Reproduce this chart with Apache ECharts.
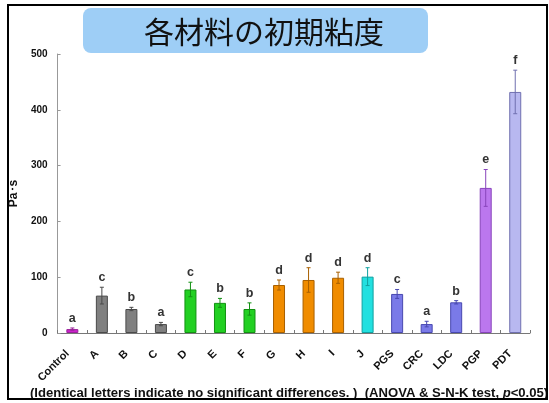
<!DOCTYPE html>
<html><head><meta charset="utf-8">
<script src="https://cdn.jsdelivr.net/npm/echarts@6/dist/echarts.min.js"></script>
<style>html,body{margin:0;padding:0;background:#fff}#c{width:549px;height:403px}</style>
</head><body><div id="c"></div>
<script>
const categories = ['Control','A','B','C','D','E','F','G','H','I','J','PGS','CRC','LDC','PGP','PDT'];
const means = [7, 67, 43, 16, 78, 54, 43, 86, 95, 99, 101, 70, 16, 55, 260, 432];
const errors = [2, 15, 3, 3, 13, 8, 11, 9, 22, 10, 16, 8, 5, 3, 33, 39];
const letters = ['a','c','b','a','c','b','b','d','d','d','d','c','a','b','e','f'];
const fills = ['#cc22cc','#808080','#808080','#808080','#22d022','#22d022','#22d022','#f08c00','#f08c00','#f08c00','#22e0e0','#7a7ae8','#7a7ae8','#7a7ae8','#bb77ee','#b8b8f0'];
const borders = ['#992299','#4a4a4a','#4a4a4a','#4a4a4a','#129012','#129012','#129012','#a86000','#a86000','#a86000','#10a0a0','#4848b0','#4848b0','#4848b0','#8844bb','#7070b0'];
const yTicks = [0, 100, 200, 300, 400, 500];
const titleText = '各材料の初期粘度';
const footText = '(Identical letters indicate no significant differences. )  (ANOVA & S-N-K test, ';

const chart = echarts.init(document.getElementById('c'));
const F = 'Liberation Sans, Arial, sans-serif';
chart.setOption({
  animation: false,
  backgroundColor: '#fff',
  grid: {left: 55, right: 19, top: 54, bottom: 70},
  xAxis: {
    type: 'category', data: categories,
    axisLine: {lineStyle: {color: '#777', width: 1}},
    axisTick: {show: true, inside: true, length: 3, lineStyle: {color: '#777'}},
    axisLabel: {rotate: 45, margin: 14, color: '#111', fontFamily: F, fontWeight: 'bold', fontSize: 11, interval: 0,
      formatter: v => '{t|' + v + '}', rich: {t: {fontFamily: F, fontWeight: 'bold', fontSize: 11, color: '#111', padding: [0, 7, 0, 0]}}}
  },
  yAxis: {
    type: 'value', min: yTicks[0], max: yTicks[yTicks.length-1], interval: 100,
    name: 'Pa･s', nameLocation: 'middle', nameGap: 34, nameRotate: 90,
    nameTextStyle: {fontFamily: F, fontWeight: 'bold', fontSize: 12, color: '#111'},
    axisLine: {show: true, lineStyle: {color: '#999'}},
    axisTick: {show: true, inside: true, length: 3, lineStyle: {color: '#999'}},
    splitLine: {show: false},
    axisLabel: {color: '#111', fontFamily: F, fontWeight: 'bold', fontSize: 10, margin: 10}
  },
  series: [
    {
      type: 'bar', barWidth: 12,
      data: means.map((v, i) => ({value: v, itemStyle: {color: fills[i], borderColor: borders[i], borderWidth: 1}}))
    },
    {
      type: 'custom',
      data: means.map((v, i) => [i, v, errors[i], letters[i]]),
      renderItem: function (params, api) {
        const x = api.coord([api.value(0), 0])[0];
        const top = api.coord([api.value(0), api.value(1) + api.value(2)])[1];
        const bot = api.coord([api.value(0), api.value(1) - api.value(2)])[1];
        const i = params.dataIndex;
        const st = {stroke: borders[i], lineWidth: 1};
        return {type: 'group', children: [
          {type: 'line', shape: {x1: x, y1: bot, x2: x, y2: top}, style: st},
          {type: 'line', shape: {x1: x - 2, y1: top, x2: x + 2, y2: top}, style: st},
          {type: 'line', shape: {x1: x - 2, y1: bot, x2: x + 2, y2: bot}, style: st},
          {type: 'text', x: x, y: top - 3, style: {text: letters[i], textAlign: 'center', textVerticalAlign: 'bottom', font: 'bold 12.5px ' + F, fill: '#333'}}
        ]};
      },
      z: 5
    }
  ],
  graphic: [
    {type: 'rect', shape: {x: 8, y: 5, width: 539, height: 394}, style: {fill: 'none', stroke: '#000', lineWidth: 2}, z: 10},
    {type: 'rect', shape: {x: 83, y: 8, width: 345, height: 45, r: 8}, style: {fill: '#9ecef6'}, z: 1},
    {type: 'text', x: 264, y: 32, style: {text: titleText, textAlign: 'center', textVerticalAlign: 'middle', font: '30px "Noto Sans CJK JP"', fill: '#111'}, z: 2},
    {type: 'text', x: 30, y: 393, style: {rich: {n: {font: 'bold 13.1px ' + F, fill: '#111'}, i: {font: 'italic bold 13.1px ' + F, fill: '#111'}}, text: '{n|' + footText + '}{i|p}{n|<0.05)}', textVerticalAlign: 'middle'}, z: 2}
  ]
});
</script></body></html>
